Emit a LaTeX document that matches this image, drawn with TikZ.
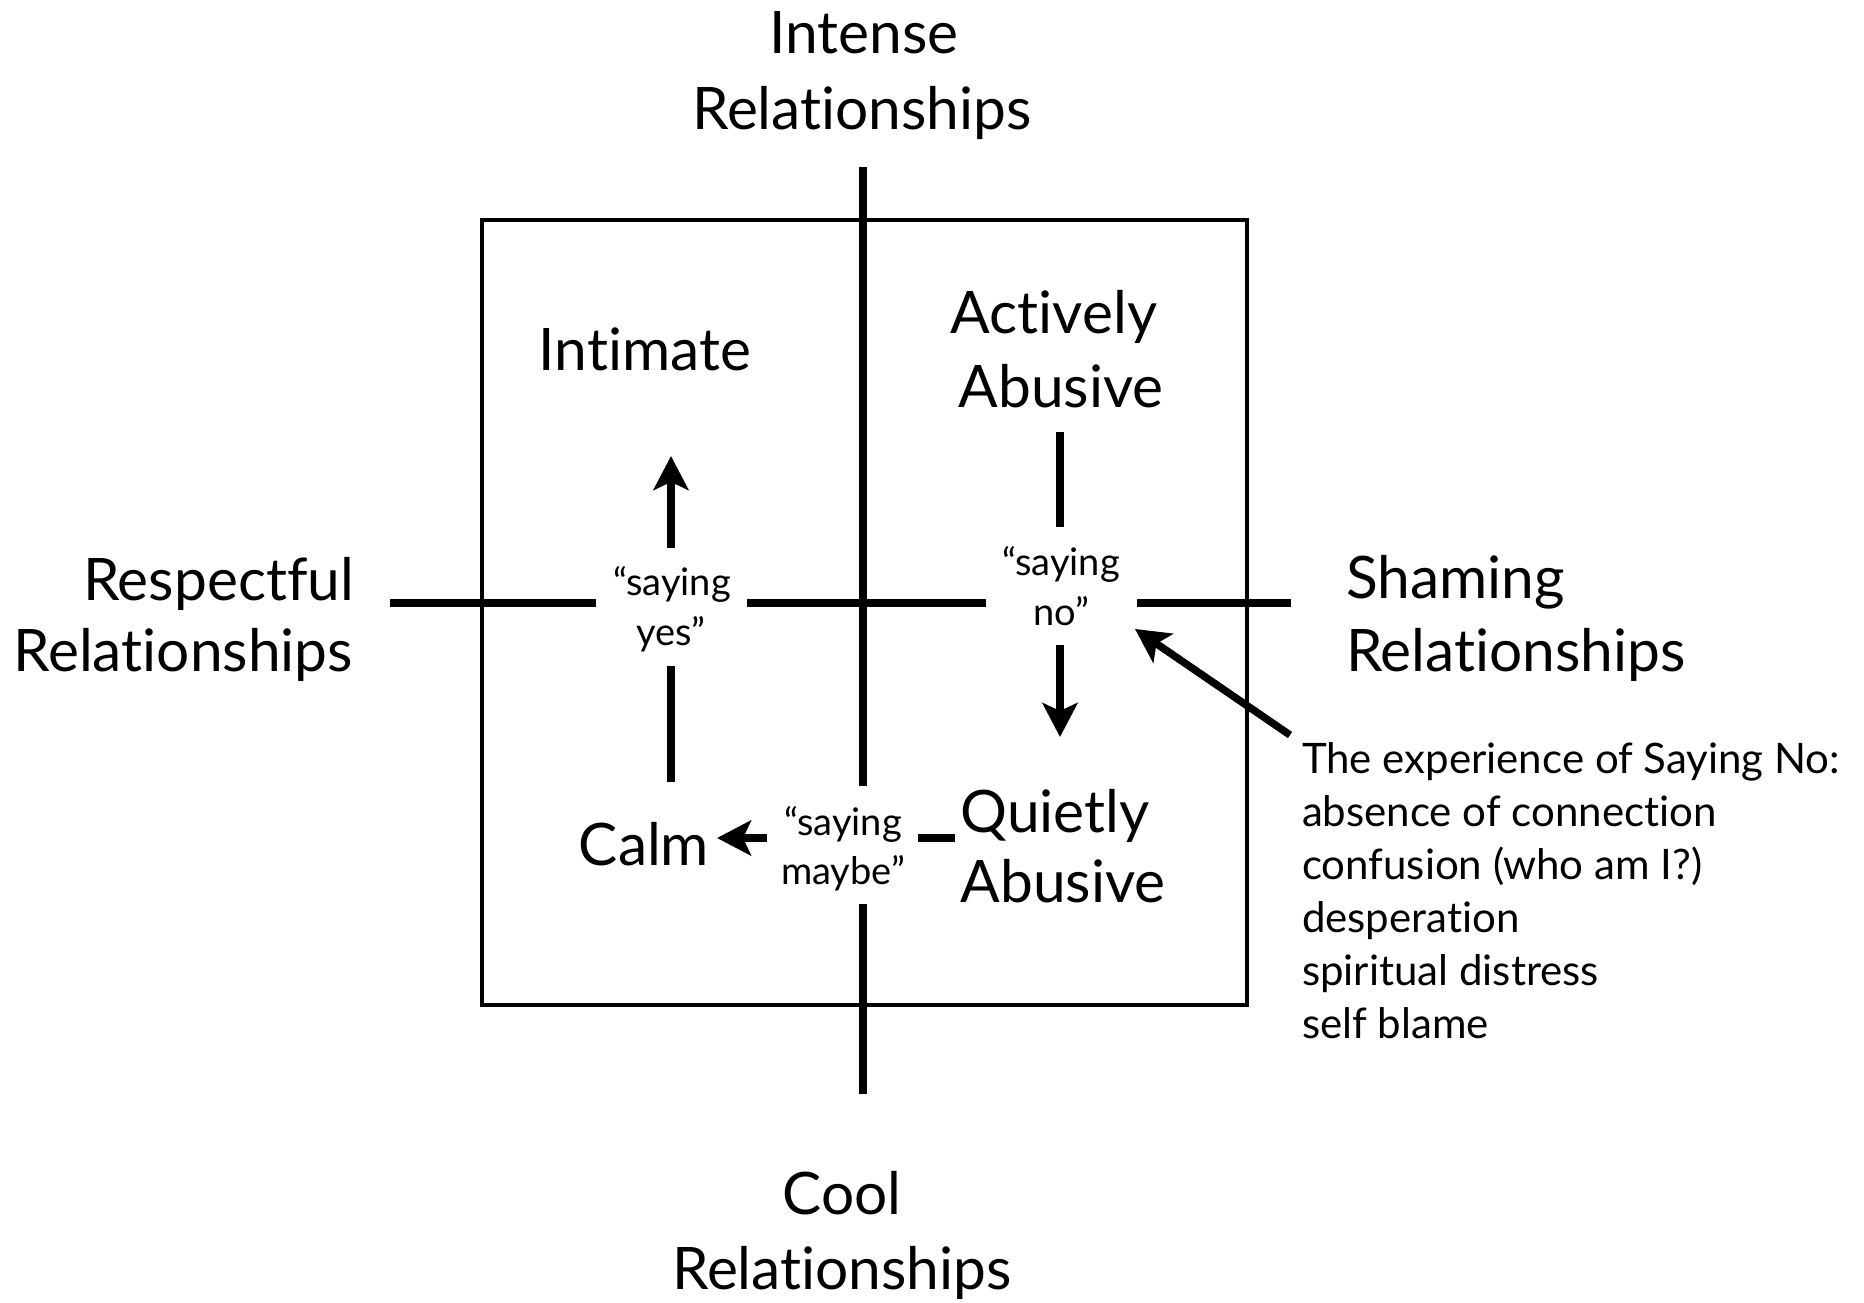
\documentclass[tikz,border=0pt]{standalone}
\usepackage{fontspec}
\setmainfont{Lato}[Ligatures=NoCommon]
\usetikzlibrary{arrows.meta}
\begin{document}
\begin{tikzpicture}[x=0.5pt,y=-0.5pt,
  big/.style={font=\fontsize{29.3pt}{35pt}\selectfont, inner sep=0pt, outer sep=0pt},
  quote/.style={font=\fontsize{19pt}{23pt}\selectfont, inner sep=0pt, outer sep=0pt, anchor=base},
  note/.style={font=\fontsize{21pt}{25pt}\selectfont, inner sep=0pt, outer sep=0pt, anchor=base west},
  axis/.style={line width=3.75pt},
  frame/.style={line width=2pt},
  arr/.style={line width=3.75pt, -{Stealth[length=17pt,width=17.5pt,inset=4pt]}}]
\fill[white] (0,0) rectangle (1864,1302);
\useasboundingbox (0,0) rectangle (1864,1302);

% frame
\draw[frame] (482,220) rectangle (1247,1005);

% axis labels
\node[big, anchor=base] (intenseA) at (864,53) {Intense};
\node[big, anchor=base] (intenseB) at (862,129) {Relationships};
\node[big, anchor=base east] (respA) at (354,600) {Respectful};
\node[big, anchor=base east] (respB) at (353,671) {Relationships};
\node[big, anchor=base west] (shamA) at (1346,598) {Shaming};
\node[big, anchor=base west] (shamB) at (1346,671) {Relationships};
\node[big, anchor=base] (coolA) at (842,1214) {Cool};
\node[big, anchor=base] (coolB) at (842,1289) {Relationships};

% quadrant labels
\node[big, anchor=base] (intim) at (645,370) {Intimate};
\node[big, anchor=base] (actA) at (1054,333) {Actively};
\node[big, anchor=base] (actB) at (1061,407) {Abusive};
\node[big, anchor=base] (quiA) at (1055,832) {Quietly};
\node[big, anchor=base] (quiB) at (1063,902) {Abusive};
\node[big, anchor=base] (calm) at (644,865) {Calm};

% quoted labels
\node[quote] (yesA) at (672,595) {“saying};
\node[quote] (yesB) at (671,645) {yes”};
\node[quote] (noA) at (1061,575) {“saying};
\node[quote] (noB) at (1061,625) {no”};
\node[quote] (mayA) at (843,835) {“saying};
\node[quote] (mayB) at (843,884) {maybe”};

% annotation
\node[note] (n1) at (1302,773) {The experience of Saying No:};
\node[note] (n2) at (1302,826) {absence of connection};
\node[note] (n3) at (1302,879) {confusion (who am I?)};
\node[note] (n4) at (1302,932) {desperation};
\node[note] (n5) at (1302,985) {spiritual distress};
\node[note] (n6) at (1302,1038) {self blame};

% coordinates
\coordinate (vTop) at (863,167);
\coordinate (vMidA) at (863,786);
\coordinate (vMidB) at (863,904);
\coordinate (vBot) at (863,1094);
\coordinate (hL) at (390,603);
\coordinate (hYesL) at (596,603);
\coordinate (hYesR) at (747,603);
\coordinate (hNoL) at (986,603);
\coordinate (hNoR) at (1137,603);
\coordinate (hR) at (1291,603);

\coordinate (yesUpS) at (671,548);
\coordinate (yesUpE) at (671,456);
\coordinate (calmUpS) at (671,782);
\coordinate (calmUpE) at (671,666);
\coordinate (abA) at (1060,432);
\coordinate (abB) at (1060,527);
\coordinate (noDnS) at (1060,645);
\coordinate (noDnE) at (1060,737);
\coordinate (mayS) at (767,838);
\coordinate (mayE) at (717,838);
\coordinate (quiS) at (955,838);
\coordinate (quiE) at (918,838);
\coordinate (noteTail) at (1290,735);
\coordinate (noteTip) at (1135,629);

% axes
\draw[axis] (vTop) -- (vMidA);
\draw[axis] (vMidB) -- (vBot);
\draw[axis] (hL) -- (hYesL);
\draw[axis] (hYesR) -- (hNoL);
\draw[axis] (hNoR) -- (hR);

% cycle
\draw[arr] (yesUpS) -- (yesUpE);
\draw[axis] (calmUpS) -- (calmUpE);
\draw[axis] (abA) -- (abB);
\draw[arr] (noDnS) -- (noDnE);
\draw[arr] (mayS) -- (mayE);
\draw[axis] (quiS) -- (quiE);
\draw[arr] (noteTail) -- (noteTip);
\end{tikzpicture}
\end{document}
